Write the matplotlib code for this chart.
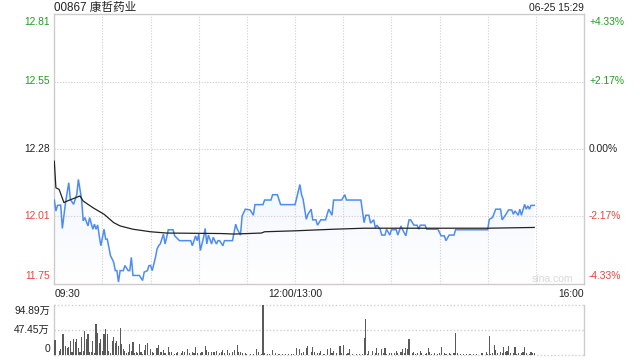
import matplotlib
matplotlib.use("Agg")
import matplotlib.pyplot as plt
import matplotlib.transforms as mtransforms
from matplotlib.colors import LinearSegmentedColormap
from matplotlib.patches import Polygon
import numpy as np

plt.rcParams['font.family'] = ['Liberation Sans', 'Noto Sans CJK SC', 'DejaVu Sans']

# ---------------- data ----------------
title = "00867 康哲药业"
stamp = "06-25 15:29"
prev_close = 12.28
pct_limit = 0.0433
price_tick_labels = ["12.81", "12.55", "12.28", "12.01", "11.75"]
pct_tick_labels = ["+4.33%", "+2.17%", "0.00%", "-2.17%", "-4.33%"]
pct_levels = [0.0433, 0.02165, 0.0, -0.02165, -0.0433]
time_labels = ["09:30", "12:00/13:00", "16:00"]
time_label_minutes = [0, 150, 330]
session_minutes = 330  # 09:30-12:00 + 13:00-16:00

# trading-minute index (0 = 09:30, 150 = 13:00) and price
price_min = [0, 1, 2, 4, 5, 7, 9, 10, 12, 14,
             15, 17, 18, 19, 21, 22, 24, 25, 26, 27,
             28, 29, 31, 32, 33, 35, 37, 38, 39, 40,
             41, 43, 44, 46, 47, 48, 49, 51, 53, 55,
             56, 58, 59, 60, 61, 63, 64, 65, 66, 68,
             69, 70, 71, 74, 75, 78, 85, 86, 88, 89,
             90, 91, 93, 94, 95, 96, 98, 99, 101, 102,
             103, 105, 106, 111, 113, 114, 116, 117, 119, 122,
             124, 125, 130, 131, 135, 136, 139, 141, 149, 150,
             153, 154, 155, 157, 158, 160, 161, 163, 164, 166,
             169, 170, 171, 173, 174, 179, 181, 182, 191, 193,
             194, 196, 197, 199, 200, 201, 203, 204, 206, 207,
             209, 210, 213, 214, 216, 217, 219, 221, 222, 224,
             226, 227, 228, 231, 232, 239, 241, 243, 244, 246,
             249, 250, 270, 271, 273, 275, 278, 279, 281, 283,
             285, 286, 287, 289, 290, 291, 293, 294, 295, 296,
             297, 299]
price = [12.079, 12.036, 12.058, 12.059, 11.967, 12.069, 12.147, 12.082, 12.062, 12.101,
         12.160, 12.082, 11.997, 12.010, 11.977, 12.010, 11.964, 11.984, 11.964, 11.981,
         11.938, 11.899, 11.964, 11.925, 11.925, 11.860, 11.834, 11.801, 11.801, 11.756,
         11.801, 11.801, 11.821, 11.801, 11.801, 11.853, 11.782, 11.782, 11.782, 11.762,
         11.795, 11.801, 11.821, 11.821, 11.801, 11.853, 11.886, 11.899, 11.906, 11.945,
         11.906, 11.932, 11.962, 11.962, 11.938, 11.919, 11.919, 11.899, 11.938, 11.919,
         11.945, 11.880, 11.932, 11.967, 11.906, 11.941, 11.906, 11.932, 11.906, 11.919,
         11.919, 11.899, 11.919, 11.919, 11.984, 11.964, 11.941, 12.016, 12.043, 12.040,
         12.019, 12.061, 12.061, 12.079, 12.079, 12.100, 12.100, 12.061, 12.061, 12.061,
         12.140, 12.101, 12.082, 12.003, 12.023, 12.043, 12.001, 12.001, 11.980, 12.001,
         12.001, 12.023, 12.043, 12.019, 12.079, 12.079, 12.100, 12.079, 12.079, 11.990,
         12.019, 12.019, 11.988, 12.001, 11.970, 11.980, 11.964, 11.941, 11.941, 11.964,
         11.941, 11.962, 11.962, 11.941, 11.977, 11.962, 11.938, 12.001, 12.001, 11.980,
         11.980, 11.964, 11.980, 11.980, 11.964, 11.964, 11.938, 11.938, 11.919, 11.941,
         11.941, 11.962, 11.962, 12.003, 12.010, 12.043, 12.043, 12.001, 12.019, 12.040,
         12.040, 12.023, 12.036, 12.019, 12.043, 12.019, 12.062, 12.043, 12.056, 12.043,
         12.058, 12.058]

avg_min = [0, 1, 3, 6, 8, 16, 18, 24, 31, 37, 41, 49, 60, 70, 104, 112, 129, 131,
           151, 174, 193, 229, 270, 299]
avg_price = [12.232, 12.127, 12.121, 12.069, 12.075, 12.095, 12.075, 12.049, 12.023,
             11.990, 11.977, 11.964, 11.954, 11.949, 11.947, 11.945, 11.949, 11.954,
             11.958, 11.964, 11.968, 11.968, 11.968, 11.971]

vol_max = 94.89
vol_tick_labels = ["94.89万", "47.45万", "0"]
vol_min = [0, 1, 3, 4, 5, 6, 7, 8, 9, 10, 11, 12, 13, 14, 15, 16, 17, 18, 19, 20,
           21, 22, 23, 24, 25, 26, 27, 28, 29, 30, 31, 32, 33, 34, 35, 36, 37, 38, 39, 40,
           41, 42, 43, 44, 45, 46, 47, 48, 49, 50, 51, 52, 53, 54, 55, 56, 57, 58, 60, 61,
           62, 64, 65, 66,
           67, 68, 69, 71, 72, 73, 75, 76, 77, 79, 80, 81, 83, 84, 86, 87, 88, 89, 91, 92,
           94, 95, 96, 98, 99, 100, 101, 103, 104, 105, 106, 108, 109, 111, 112, 114, 115, 116, 117, 119,
           120, 122, 124, 126, 127, 129, 130, 131, 133,
           134, 136, 138, 140, 142, 144, 146, 148, 149, 151, 153, 154, 155, 157, 158, 160, 161, 162, 164, 165,
           166, 168, 170, 172, 173, 174, 176, 178, 179, 180, 182, 183, 184, 186, 188, 190, 192, 193, 194, 195,
           196, 198, 200, 201,
           202, 204, 205, 206, 207, 209, 210, 212, 213, 214, 216, 217, 218, 219, 220, 221, 223, 224, 225, 226,
           228, 229, 231, 232, 233, 234, 235, 237, 239, 240, 241, 243, 244, 246, 247, 249, 250, 251, 253, 255,
           257, 259, 261, 263, 266, 267,
           269, 270, 271, 272, 273, 274, 275, 276, 278, 279, 280, 281, 282, 283, 284, 286, 287, 288, 289, 291,
           292, 293, 294, 296, 297, 298, 299]
vol_wan = [28.5, 28.5, 8.2, 10.8, 39.9, 39.9, 17, 12.7, 14.5, 26.6, 6.3, 30.4, 25.3, 30.4, 12.7, 6.3, 33.5, 8.2, 46.2, 30.4,
           39.9, 6.3, 6.3, 26.6, 4.4, 58.8, 42.4, 23.4, 30.4, 8.2, 39.9, 49.3, 39.9, 8.2, 4.4, 27.2, 34.8, 22.1, 26.6, 17,
           51.2, 20.9, 10.8, 8.2, 3.2, 6.3, 20.9, 8.2, 24, 4.4, 6.3, 4.4, 20.9, 6.3, 1.9, 9.5, 19, 22.1, 10.8, 6.3,
           3.2, 12.7, 19, 6.3,
           5, 9.5, 4.4, 15.8, 6.3, 6.3, 1.9, 3.2, 6.3, 4.4, 8.2, 5, 11.4, 4.4, 6.3, 4.4, 15.8, 4.4, 4.4, 6.3,
           17, 9.5, 5, 6.3, 5, 6.3, 7.6, 4.4, 6.3, 9.5, 3.2, 9.5, 4.4, 6.3, 9.5, 19, 5, 6.3, 4.4, 3.2,
           1.9, 1.9, 1.9, 10.8, 6.3, 1.9, 94.89, 4.4, 1.9,
           1.9, 9.5, 3.2, 1.9, 1.9, 1.9, 1.9, 1.3, 1.3, 12.7, 10.8, 4.4, 6.3, 12.7, 17, 6.3, 14.5, 5, 3.2, 4.4,
           7.6, 1.9, 11.4, 12.7, 3.2, 8.2, 3.2, 17, 3.2, 19, 1.9, 4.4, 10.8, 1.9, 1.9, 1.9, 1.9, 32.3, 68.3, 1.9,
           7.6, 7.6, 3.2, 12.7,
           3.2, 10.8, 3.2, 12.7, 1.9, 4.4, 3.2, 3.2, 7.6, 3.2, 5, 10.8, 3.2, 12.7, 10.8, 29.7, 3.2, 6.3, 1.9, 3.2,
           7.6, 3.2, 1.9, 3.2, 12.7, 5, 1.9, 3.2, 1.9, 3.2, 14.5, 3.2, 1.9, 3.2, 1.9, 3.2, 41.8, 3.2, 1.9, 1.9,
           1.9, 1.9, 1.9, 1.9, 3.2, 3.2,
           5, 1.9, 36.1, 1.9, 4.4, 19, 9.5, 3.2, 5, 4.4, 14.5, 5, 7.6, 17, 4.4, 4.4, 15.2, 1.9, 3.2, 4.4,
           5, 15.2, 3.2, 1.9, 6.3, 3.2, 4.4]

# ---------------- style ----------------
GREEN = '#1e9e1e'
RED = '#f0413b'
BLACK = '#222222'
BLUE = '#4d8cf5'
GRID = '#cfcfcf'
FRAME = '#cccccc'
FS = 7.4

W, H = 640, 360
fig = plt.figure(figsize=(W / 100, H / 100), dpi=100)
fig.patch.set_facecolor('white')

L, R = 54.3, 584.0
ax = fig.add_axes([L / W, 1 - 284 / H, (R - L) / W, (284 - 14) / H])
axv = fig.add_axes([L / W, 1 - 355 / H, (R - L) / W, 50 / H])

ymax = prev_close * (1 + pct_limit)
ymin = prev_close * (1 - pct_limit)
levels = [prev_close * (1 + p) for p in pct_levels]
label_colors = [GREEN, GREEN, BLACK, RED, RED]

# ---- price panel ----
x = np.array(price_min, dtype=float)
y = np.array(price, dtype=float)

cmap = LinearSegmentedColormap.from_list('g', ['#ffffff', '#dfe9fb'])
grad = np.linspace(1, 0, 256).reshape(-1, 1)
im = ax.imshow(grad, extent=[0, session_minutes, ymin, ymax], aspect='auto',
               cmap=cmap, origin='upper', zorder=1)
poly_pts = np.vstack([np.column_stack([x, y]), [[x[-1], ymin], [x[0], ymin]]])
clip = Polygon(poly_pts, closed=True, facecolor='none', edgecolor='none')
ax.add_patch(clip)
im.set_clip_path(clip)

ax.plot(x, y, color=BLUE, lw=1.1, zorder=4, solid_joinstyle='miter')
ax.plot(avg_min, avg_price, color=BLACK, lw=0.9, zorder=5)

ax.set_xlim(0, session_minutes)
ax.set_ylim(ymin, ymax)
ax.set_xticks([])
ax.set_yticks([])
for s in ax.spines.values():
    s.set_color(FRAME)
    s.set_linewidth(1.0)

for lv in levels[1:-1]:
    ax.axhline(lv, color=GRID, lw=0.8, ls=(0, (1, 1.5)), zorder=2)
for m in range(30, session_minutes, 30):
    ax.axvline(m, color=GRID, lw=0.8, ls=(0, (1, 1.5)), zorder=2)

tl = mtransforms.blended_transform_factory(ax.transAxes, ax.transData)
n = len(levels)
for i, (lv, lab, pl, c) in enumerate(zip(levels, price_tick_labels, pct_tick_labels, label_colors)):
    va = 'center'
    off = 0
    if i == 0:
        va, off = 'top', -3
    elif i == n - 1:
        va, off = 'bottom', 3
    t1 = mtransforms.offset_copy(tl, fig=fig, x=-4.3, y=off, units='dots')
    ax.text(0, lv, lab, transform=t1, ha='right', va=va, color=c, fontsize=FS)
    t2 = mtransforms.offset_copy(tl, fig=fig, x=5.0, y=off, units='dots')
    ax.text(1, lv, pl, transform=t2, ha='left', va=va, color=c, fontsize=FS)

ax.text(0, 1.024, title, transform=ax.transAxes, ha='left', va='center',
        fontsize=8.4, color=BLACK)
ax.text(1, 1.024, stamp, transform=ax.transAxes, ha='right', va='center',
        fontsize=FS, color=BLACK)

tb = mtransforms.blended_transform_factory(ax.transData, ax.transAxes)
for m, lab in zip(time_label_minutes, time_labels):
    ha = 'left' if m == 0 else ('right' if m == session_minutes else 'center')
    ax.text(m, -0.018, lab, transform=tb, ha=ha, va='top', fontsize=FS, color=BLACK)

ax.text(0.94, 0.018, "sina.com", transform=ax.transAxes, ha='center', va='center',
        fontsize=7.5, color='#d9d9d9', zorder=6)

# ---- volume panel ----
axv.bar(vol_min, vol_wan, width=0.7, color='#5a5a5a', zorder=3, linewidth=0)
axv.set_xlim(0, session_minutes)
axv.set_ylim(0, vol_max)
axv.set_xticks([])
axv.set_yticks([])
for side in ['left', 'right']:
    axv.spines[side].set_color(FRAME)
    axv.spines[side].set_linewidth(1.0)
for side in ['top', 'bottom']:
    axv.spines[side].set_visible(False)
for lv in [0, vol_max / 2, vol_max]:
    axv.axhline(lv, color=GRID, lw=1.0, ls=(0, (1, 1.5)), zorder=2, clip_on=False)

tv = mtransforms.blended_transform_factory(axv.transAxes, axv.transData)
vol_levels = [vol_max, vol_max / 2, 0]
for i, (lv, lab) in enumerate(zip(vol_levels, vol_tick_labels)):
    va, off = 'center', 0
    if i == 0:
        va, off = 'top', -1
    elif i == len(vol_levels) - 1:
        va, off = 'bottom', 1
    t1 = mtransforms.offset_copy(tv, fig=fig, x=-4.3, y=off, units='dots')
    axv.text(0, lv, lab, transform=t1, ha='right', va=va, color=BLACK, fontsize=FS)

fig.savefig("out.png", dpi=100, facecolor='white')
